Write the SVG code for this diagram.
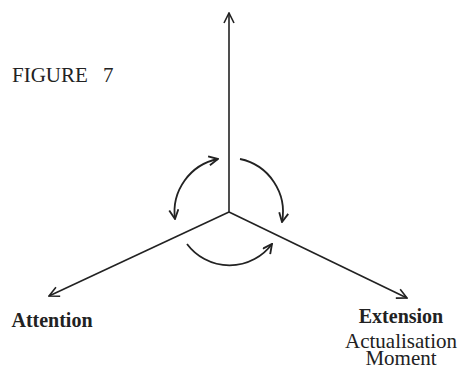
<svg xmlns="http://www.w3.org/2000/svg" width="458" height="367" viewBox="0 0 458 367">
<style>
.ax{fill:none;stroke:#222;stroke-width:1.6}
.arc{fill:none;stroke:#222;stroke-width:1.8}
.t{font-family:"Liberation Serif","Times New Roman",serif;fill:#222;font-size:20px}
.s{font-size:21px}
.b{font-weight:bold}
</style>
<defs>
<marker id="ah" viewBox="0 0 12 12" refX="11" refY="6" markerWidth="12" markerHeight="12" markerUnits="userSpaceOnUse" orient="auto-start-reverse">
<path d="M1,1 L11,6 L1,11" fill="none" stroke="#222" stroke-width="1.6"/>
</marker>
<marker id="ah2" viewBox="0 0 12 12" refX="11" refY="6" markerWidth="11" markerHeight="11" markerUnits="userSpaceOnUse" orient="auto-start-reverse">
<path d="M1,1 L11,6 L1,11" fill="none" stroke="#222" stroke-width="2"/>
</marker>
</defs>
<g id="connectors">
<line class="ax" x1="229" y1="212" x2="229" y2="13" marker-end="url(#ah)"/>
<line class="ax" x1="229" y1="212" x2="49" y2="296" marker-end="url(#ah)"/>
<line class="ax" x1="229" y1="212" x2="407" y2="298" marker-end="url(#ah)"/>
<path class="arc" d="M218,159 A54,54 0 0 0 175,219" marker-start="url(#ah2)" marker-end="url(#ah2)"/>
<path class="arc" d="M240,159 A54,54 0 0 1 282,222" marker-end="url(#ah2)"/>
<path class="arc" d="M187,244 A53,53 0 0 0 272,244" marker-end="url(#ah2)"/>
</g>
<g id="title"><text class="t s" x="12" y="82">FIGURE<tspan x="103">7</tspan></text></g>
<g id="attention"><text class="t b" x="52" y="327" text-anchor="middle">Attention</text></g>
<g id="extension">
<text class="t b" x="401" y="323" text-anchor="middle">Extension</text>
<text class="t s" x="401" y="348" text-anchor="middle">Actualisation</text>
<text class="t s" x="401" y="365" text-anchor="middle">Moment</text>
</g>
</svg>
